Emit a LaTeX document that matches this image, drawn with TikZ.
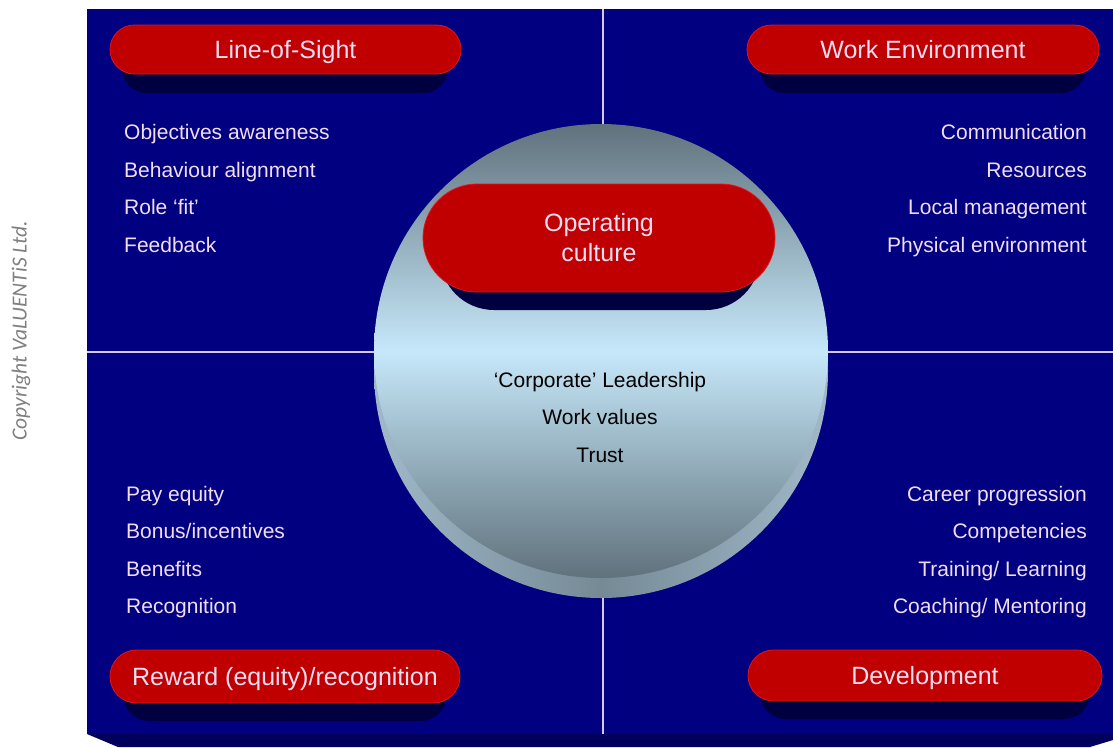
\documentclass[tikz,border=0pt]{standalone}
\usepackage{fontspec}
\setmainfont{Liberation Sans}
\newfontfamily\copyfont{Carlito}
\usetikzlibrary{shapes.misc}

\definecolor{navy}{RGB}{0,0,128}
\definecolor{navydeep}{RGB}{0,0,92}
\definecolor{pillred}{RGB}{192,0,0}
\definecolor{pillrim}{RGB}{225,20,30}
\definecolor{pillshadow}{RGB}{0,0,64}
\definecolor{lavtext}{RGB}{242,222,242}
\definecolor{divider}{RGB}{215,200,235}
\definecolor{discdark}{RGB}{96,114,124}
\definecolor{disclight}{RGB}{198,232,250}
\definecolor{rimlight}{RGB}{160,184,200}
\definecolor{rimdark}{RGB}{118,138,150}
\definecolor{copygray}{RGB}{128,128,128}

\begin{document}
\begin{tikzpicture}[x=1pt,y=-1pt,
  pill/.style={rounded rectangle, fill=pillred, draw=pillrim, line width=0.8pt,
    text=lavtext, font=\fontsize{25}{30}\selectfont, inner sep=0pt},
  pillone/.style={pill, text height=18pt, text depth=0pt},
  pillshade/.style={rounded rectangle, fill=pillshadow, inner sep=0pt},
  item/.style={text=lavtext, font=\fontsize{21}{24}\selectfont, inner sep=0pt},
  core/.style={text=black, font=\fontsize{21}{24}\selectfont, inner sep=0pt, anchor=base},
  divline/.style={draw=divider, line width=1.4pt}]

\useasboundingbox (0,0) rectangle (1113,747);
\fill[white] (0,0) rectangle (1113,747);

% copyright note
\node[rotate=90, text=copygray, font=\copyfont\itshape\fontsize{21.5}{24}\selectfont] (copy) at (21,331) {Copyright VaLUENTiS Ltd.};

% board and its bevelled lower edge
\fill[navy] (87,9) rectangle (1113,734);
\fill[navydeep] (87,734) -- (118,747) -- (1090,747) -- (1113,740) -- (1113,734) -- cycle;

% quadrant dividers
\coordinate (vtop) at (603,9);
\coordinate (vbot) at (603,734);
\coordinate (hleft) at (87,352);
\coordinate (hright) at (1113,352);
\draw[divline] (vtop) -- (vbot);
\draw[divline] (hleft) -- (hright);

% central disc: rim, then top face
\node[circle, minimum size=454pt, inner sep=0pt, shade, left color=rimlight, right color=rimlight, middle color=rimdark] (rim) at (601,371) {};
\node[circle, minimum size=454pt, inner sep=0pt, shade, top color=discdark, bottom color=discdark, middle color=disclight] (disc) at (601,351) {};

% pill shadows
\node[pillshade, minimum width=326pt, minimum height=49pt] (losS) at (285,68.5) {};
\node[pillshade, minimum width=326pt, minimum height=49pt] (workS) at (923,68.5) {};
\node[pillshade, minimum width=320pt, minimum height=108pt] (cultS) at (600,256) {};
\node[pillshade, minimum width=324pt, minimum height=53pt] (rewS) at (285,694.5) {};
\node[pillshade, minimum width=330pt, minimum height=51pt] (devS) at (925,693.5) {};

% pills
\node[pillone, minimum width=351pt, minimum height=49pt] (los) at (285.5,49.5) {Line-of-Sight};
\node[pillone, minimum width=352pt, minimum height=49pt] (work) at (923,49.5) {Work Environment};
\node[pill, align=center, minimum width=352pt, minimum height=108pt] (cult) at (599,238) {Operating\\culture};
\node[pillone, minimum width=350pt, minimum height=53pt] (rew) at (285,676.5) {Reward (equity)/recognition};
\node[pillone, minimum width=354pt, minimum height=51pt] (dev) at (925,675.5) {Development};

% top-left list
\node[item, anchor=base west] (tl1) at (124,139) {Objectives awareness};
\node[item, anchor=base west] (tl2) at (124,177) {Behaviour alignment};
\node[item, anchor=base west] (tl3) at (124,214) {Role ‘fit’};
\node[item, anchor=base west] (tl4) at (124,252) {Feedback};

% top-right list
\node[item, anchor=base east] (tr1) at (1087,139) {Communication};
\node[item, anchor=base east] (tr2) at (1087,177) {Resources};
\node[item, anchor=base east] (tr3) at (1087,214) {Local management};
\node[item, anchor=base east] (tr4) at (1087,252) {Physical environment};

% bottom-left list
\node[item, anchor=base west] (bl1) at (126,501) {Pay equity};
\node[item, anchor=base west] (bl2) at (126,538) {Bonus/incentives};
\node[item, anchor=base west] (bl3) at (126,576) {Benefits};
\node[item, anchor=base west] (bl4) at (126,613) {Recognition};

% bottom-right list
\node[item, anchor=base east] (br1) at (1087,501) {Career progression};
\node[item, anchor=base east] (br2) at (1087,538) {Competencies};
\node[item, anchor=base east] (br3) at (1087,576) {Training/ Learning};
\node[item, anchor=base east] (br4) at (1087,613) {Coaching/ Mentoring};

% disc contents
\node[core] (c1) at (600,387) {‘Corporate’ Leadership};
\node[core] (c2) at (600,424) {Work values};
\node[core] (c3) at (600,462) {Trust};
\end{tikzpicture}
\end{document}
